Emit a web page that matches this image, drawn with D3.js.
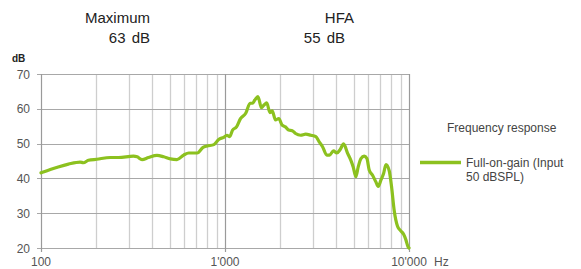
<!DOCTYPE html>
<html>
<head>
<meta charset="utf-8">
<script src="https://cdn.jsdelivr.net/npm/d3@7/dist/d3.min.js"></script>
<style>
  body { margin: 0; background: #fff; }
  svg { display: block; font-family: "Liberation Sans", Arial, sans-serif; }
</style>
</head>
<body>
<svg id="chart" width="581" height="269"></svg>
<script>
// frequency response (Hz, dB)
var freqs = [100, 124, 141, 163, 170, 181, 201, 238, 264, 318, 333, 354, 384, 427, 464, 505, 548, 596, 635, 707, 760, 800, 870, 924, 984, 1025, 1060, 1100, 1155, 1214, 1296, 1368, 1410, 1452, 1510, 1578, 1630, 1686, 1755, 1806, 1880, 1960, 2044, 2130, 2221, 2320, 2418, 2576, 2745, 2925, 3117, 3250, 3390, 3577, 3700, 3886, 4054, 4226, 4412, 4640, 4832, 4975, 5143, 5296, 5480, 5709, 5905, 6076, 6338, 6606, 6802, 7035, 7276, 7497, 7806, 8040, 8309, 8671, 9033, 9335, 9611, 9890, 10000];
var gains = [41.6, 43.3, 44.1, 44.7, 44.5, 45.2, 45.5, 46.0, 46.0, 46.4, 46.2, 45.4, 46.0, 46.6, 46.2, 45.6, 45.4, 46.7, 47.3, 47.3, 48.9, 49.3, 49.7, 51.2, 51.8, 52.4, 52.0, 53.9, 54.8, 57.2, 58.7, 61.6, 61.6, 62.5, 63.5, 60.3, 61.1, 61.7, 58.9, 59.4, 56.8, 57.2, 55.3, 54.8, 53.9, 53.7, 52.9, 52.4, 52.7, 52.4, 52.0, 50.5, 49.1, 46.7, 46.7, 47.9, 47.3, 48.3, 49.9, 47.2, 45.2, 43.3, 40.5, 43.3, 45.7, 46.4, 45.7, 42.4, 40.9, 39.0, 37.7, 39.5, 41.4, 44.0, 42.2, 37.6, 30.8, 26.2, 24.9, 24.0, 22.4, 20.3, 20.0];

var yTicks = [20, 30, 40, 50, 60, 70];
var xMajor = [100, 1000, 10000];
var xMajorLabels = ["100", "1'000", "10'000"];
var xMinor = [200, 300, 400, 500, 600, 700, 800, 900, 2000, 3000, 4000, 5000, 6000, 7000, 8000, 9000];

var summaryLabels = ["Maximum", "HFA"];
var summaryValues = ["63 dB", "55 dB"];

var svg = d3.select("#chart");
var green = "#8cc11f";

var x = d3.scaleLog().domain([100, 10000]).range([41, 409]);
var y = d3.scaleLinear().domain([20, 70]).range([248, 74]);

// minor vertical grid
svg.append("g").selectAll("line").data(xMinor).enter().append("line")
    .attr("x1", function(d) { return Math.round(x(d)) + 0.5; })
    .attr("x2", function(d) { return Math.round(x(d)) + 0.5; })
    .attr("y1", y(70)).attr("y2", y(20))
    .attr("stroke", "#cecece").attr("stroke-width", 1.3);

// horizontal grid
svg.append("g").selectAll("line").data(yTicks).enter().append("line")
    .attr("x1", 37).attr("x2", x(10000))
    .attr("y1", function(d) { return Math.round(y(d)) + 0.5; })
    .attr("y2", function(d) { return Math.round(y(d)) + 0.5; })
    .attr("stroke", "#a8a8a8").attr("stroke-width", 1.2);

// decade lines
svg.append("g").selectAll("line").data(xMajor).enter().append("line")
    .attr("x1", function(d) { return Math.round(x(d)) + 0.5; })
    .attr("x2", function(d) { return Math.round(x(d)) + 0.5; })
    .attr("y1", y(70)).attr("y2", y(20) + 4)
    .attr("stroke", "#9a9a9a").attr("stroke-width", 1.2);

// y tick labels
svg.append("g").selectAll("text").data(yTicks).enter().append("text")
    .attr("x", 30).attr("y", function(d) { return y(d) + 4.5; })
    .attr("text-anchor", "end")
    .attr("font-size", "12px").attr("fill", "#555")
    .text(function(d) { return d; });

// x tick labels
svg.append("g").selectAll("text").data(xMajor).enter().append("text")
    .attr("x", function(d) { return x(d); }).attr("y", 266)
    .attr("text-anchor", "middle")
    .attr("font-size", "12px").attr("fill", "#555")
    .text(function(d, i) { return xMajorLabels[i]; });

svg.append("text").attr("x", 434).attr("y", 266)
    .attr("font-size", "12px").attr("fill", "#555").text("Hz");

svg.append("text").attr("x", 12).attr("y", 62)
    .attr("font-size", "10px").attr("font-weight", "bold").attr("fill", "#222").text("dB");

// curve
var line = d3.line()
    .x(function(d, i) { return x(freqs[i]); })
    .y(function(d) { return y(d); })
    .curve(d3.curveMonotoneX);

svg.append("path").datum(gains)
    .attr("d", line)
    .attr("fill", "none")
    .attr("stroke", green)
    .attr("stroke-width", 3.2)
    .attr("stroke-linejoin", "round")
    .attr("stroke-linecap", "round");

// summary header
var headX = [150, 354];
var valX = [150, 345];
svg.append("g").selectAll("text").data(summaryLabels).enter().append("text")
    .attr("x", function(d, i) { return headX[i]; }).attr("y", 23)
    .attr("text-anchor", "end")
    .attr("font-size", "15px").attr("fill", "#222")
    .text(function(d) { return d; });
svg.append("g").selectAll("text").data(summaryValues).enter().append("text")
    .attr("x", function(d, i) { return valX[i]; }).attr("y", 43)
    .attr("text-anchor", "end")
    .attr("font-size", "15px").attr("fill", "#222")
    .attr("word-spacing", "2px")
    .text(function(d) { return d; });

// legend
svg.append("text").attr("x", 447).attr("y", 132)
    .attr("font-size", "12px").attr("fill", "#444").text("Frequency response");
svg.append("line").attr("x1", 420).attr("x2", 461).attr("y1", 162.5).attr("y2", 162.5)
    .attr("stroke", green).attr("stroke-width", 3.5);
svg.append("text").attr("x", 466).attr("y", 167)
    .attr("font-size", "12px").attr("fill", "#444").text("Full-on-gain (Input");
svg.append("text").attr("x", 466).attr("y", 181)
    .attr("font-size", "12px").attr("fill", "#444").text("50 dBSPL)");
</script>
</body>
</html>
